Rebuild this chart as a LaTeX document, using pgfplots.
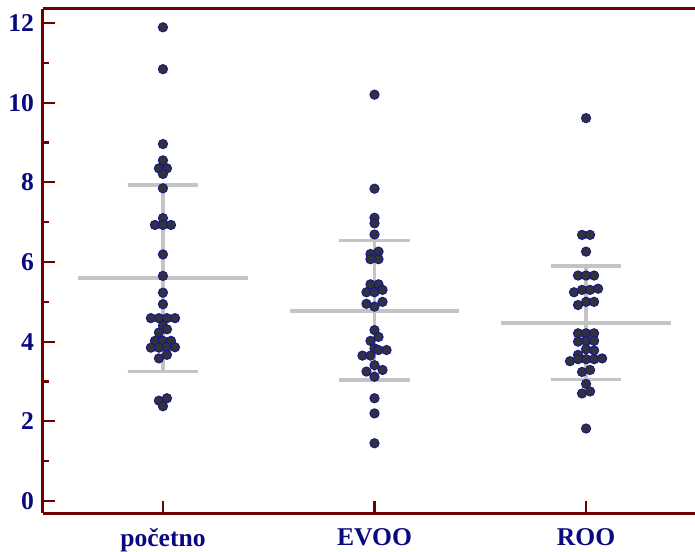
\documentclass[border=0pt]{standalone}
\usepackage{pgfplots}
\pgfplotsset{compat=1.18}
\usepackage{fontspec}
\setmainfont{Liberation Serif}

\definecolor{axred}{RGB}{112,0,0}
\definecolor{lblue}{RGB}{10,10,128}
\definecolor{dotfill}{RGB}{50,50,58}
\definecolor{dotedge}{RGB}{25,25,135}
\definecolor{sdgray}{RGB}{196,196,196}

\begin{document}
\begin{tikzpicture}
\useasboundingbox (-21.5pt,-19pt) rectangle (326pt,256.5pt);
\begin{axis}[
    scale only axis,
    width=326pt, height=252pt,
    xmin=-0.567, xmax=2.515,
    ymin=-0.3, ymax=12.35,
    axis x line*=bottom,
    axis y line*=left,
    axis line style={axred, line width=1.5pt},
    tick style={axred, line width=1.1pt},
    tick align=inside,
    major tick length=6pt,
    minor tick length=3pt,
    xtick={0,1,2},
    xticklabels={početno, EVOO, ROO},
    ytick={0,2,4,6,8,10,12},
    minor y tick num=1,
    /pgf/number format/assume math mode=true,
    ticklabel style={font=\fontsize{12.8}{14}\selectfont\bfseries, text=lblue},
    yticklabel style={xshift=-1pt},
    xticklabel style={yshift=-4pt},
    clip=false,
]
% points
\addplot[only marks, mark=*, mark size=2.3pt,
    mark options={fill=dotfill, draw=dotedge, line width=0.5pt}] table {
x y
0 11.89
0 10.84
0 8.96
0 8.55
-0.019 8.35
0.019 8.35
0 8.21
0 7.85
0 7.10
-0.038 6.93
0 6.93
0.038 6.93
0 6.19
0 5.65
0 5.23
0 4.94
-0.057 4.59
-0.019 4.59
0.019 4.59
0.057 4.59
0 4.40
0.019 4.31
-0.019 4.23
-0.038 4.02
0 4.02
0.038 4.02
-0.057 3.85
-0.019 3.85
0.019 3.87
0.057 3.86
0.019 3.67
-0.019 3.58
-0.019 2.52
0.019 2.58
0 2.38
};
\addplot[only marks, mark=*, mark size=2.3pt,
    mark options={fill=dotfill, draw=dotedge, line width=0.5pt}] table {
x y
1 10.20
1 7.84
1 7.11
1 6.97
1 6.69
0.981 6.20
1.019 6.26
0.981 6.07
1.019 6.07
0.981 5.44
1.019 5.44
0.962 5.24
1 5.24
1.038 5.30
0.962 4.95
1 4.88
1.038 5.00
1 4.29
1.019 4.12
0.981 4.02
1 3.83
1.019 3.79
1.057 3.79
0.943 3.65
0.981 3.65
1 3.41
0.962 3.25
1.038 3.29
1 3.12
1 2.58
1 2.20
1 1.45
};
\addplot[only marks, mark=*, mark size=2.3pt,
    mark options={fill=dotfill, draw=dotedge, line width=0.5pt}] table {
x y
2 9.61
1.981 6.68
2.019 6.68
2 6.26
1.962 5.66
2 5.66
2.038 5.66
1.943 5.24
1.981 5.30
2.019 5.30
2.057 5.33
1.962 4.92
2 5.00
2.038 5.00
1.962 4.21
2 4.21
2.038 4.21
1.962 4.00
2 4.02
2.038 4.02
2 3.81
2.038 3.78
1.962 3.67
1.924 3.51
1.962 3.56
2 3.56
2.038 3.56
2.076 3.58
1.981 3.24
2.019 3.29
2 2.94
1.981 2.70
2.019 2.75
2 1.82
};
% mean and SD lines
\pgfplotsset{sd/.style={sdgray, line width=1.6pt}}
\addplot[sd] coordinates {(-0.4,5.60) (0.4,5.60)};
\addplot[sd] coordinates {(0,3.26) (0,7.93)};
\addplot[sd] coordinates {(-0.167,7.93) (0.167,7.93)};
\addplot[sd] coordinates {(-0.167,3.26) (0.167,3.26)};
\addplot[sd] coordinates {(0.6,4.77) (1.4,4.77)};
\addplot[sd] coordinates {(1,3.04) (1,6.53)};
\addplot[sd] coordinates {(0.833,6.53) (1.167,6.53)};
\addplot[sd] coordinates {(0.833,3.04) (1.167,3.04)};
\addplot[sd] coordinates {(1.6,4.47) (2.4,4.47)};
\addplot[sd] coordinates {(2,3.06) (2,5.90)};
\addplot[sd] coordinates {(1.833,5.90) (2.167,5.90)};
\addplot[sd] coordinates {(1.833,3.06) (2.167,3.06)};
% top frame line
\draw[axred, line width=1.5pt] (rel axis cs:0,1) -- (rel axis cs:1,1);
\end{axis}
\end{tikzpicture}
\end{document}
